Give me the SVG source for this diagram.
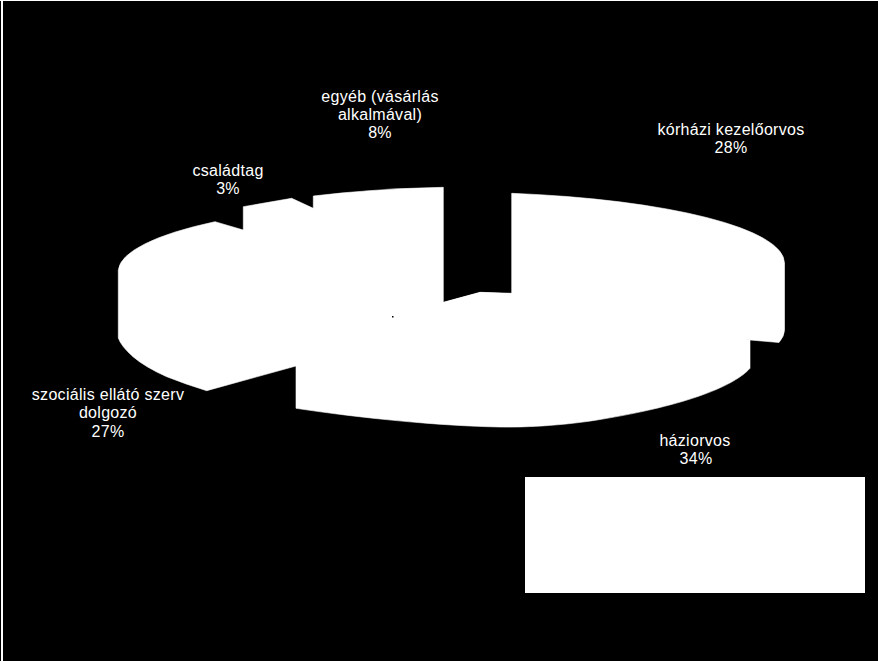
<svg xmlns="http://www.w3.org/2000/svg" width="878" height="661" viewBox="0 0 878 661">
<style>
.slice{fill:#fff;stroke:#fff;stroke-width:0.6;stroke-linejoin:miter}
.lbl{font-family:"Liberation Sans",Arial,sans-serif;font-size:16px;fill:#fff;text-anchor:middle;letter-spacing:0.3px}
</style>
<rect x="0" y="0" width="878" height="661" fill="#000"/>
<rect x="1" y="0" width="2" height="661" fill="#fff"/>
<rect x="0" y="0" width="878" height="1" fill="#fff"/>
<g id="slice-szocialis">
<path class="slice" d="M296,366 L206.7,390.7 Q185,384 166.7,376.7 Q145,367 133,356.7 Q121,346 118.3,338 L118.3,270 A333.5 71 0 0 1 215,221.7 L243.3,230 L420,310 Z"/>
</g>
<g id="slice-csaladtag">
<path class="slice" d="M243.3,230 L243.3,206.7 L291.7,198.3 L313.3,208.3 L420,310 Z"/>
</g>
<g id="slice-egyeb">
<path class="slice" d="M313.3,208.3 L313.3,196 A333.5 71 0 0 1 443.3,187.3 L443.3,302.3 L420,310 Z"/>
</g>
<g id="slice-korhazi">
<path class="slice" d="M443.3,302.3 L480,292.3 L511.7,293.3 L511.7,193.3 A333.5 71 0 0 1 784.5,263 L784.5,330 A333.5 71 0 0 1 779,342.5 L750,340 L420,310 Z"/>
</g>
<g id="slice-haziorvos">
<path class="slice" d="M750,340 L750,368.3 C735,385 690,405 597,420 C560,426 520,427.5 500,427 C440,426 360,418 296,408.3 L296,366 L420,310 Z"/>
</g>
<g id="pie-core">
<polygon fill="#fff" points="243.3,230 313.3,208.3 443.3,302.3 480,292.3 511.7,293.3 750,340 296,366"/>
</g>
<rect x="392" y="316" width="1.5" height="1.5" fill="#000"/>
<g id="legend">
<rect x="525" y="477" width="340" height="116" fill="#fff"/>
</g>
<g id="labels">
<g id="label-egyeb"><text class="lbl" x="380" y="102">egyéb (vásárlás</text><text class="lbl" x="380" y="120">alkalmával)</text><text class="lbl" x="380" y="137.5">8%</text></g>
<g id="label-csaladtag"><text class="lbl" x="228" y="176">családtag</text><text class="lbl" x="228" y="194.3">3%</text></g>
<g id="label-korhazi"><text class="lbl" x="731" y="135">kórházi kezelőorvos</text><text class="lbl" x="731" y="153">28%</text></g>
<g id="label-haziorvos"><text class="lbl" x="695" y="446">háziorvos</text><text class="lbl" x="696" y="464.3">34%</text></g>
<g id="label-szocialis"><text class="lbl" x="108" y="400">szociális ellátó szerv</text><text class="lbl" x="108" y="418.3">dolgozó</text><text class="lbl" x="108" y="436.7">27%</text></g>
</g>
</svg>
